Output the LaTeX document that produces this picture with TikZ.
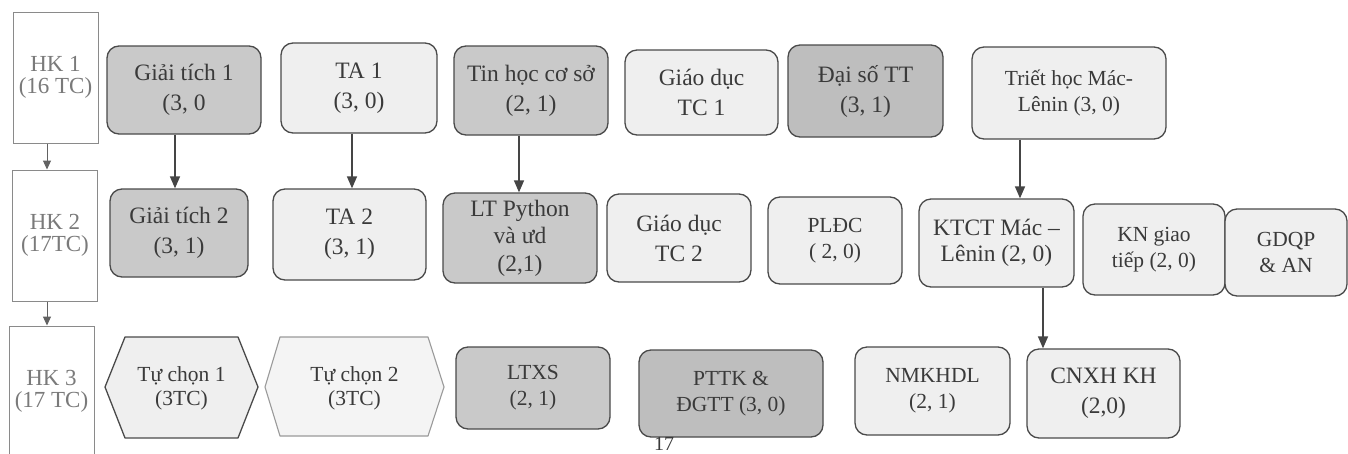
\documentclass[tikz,border=0pt]{standalone}
\usepackage{fontspec}
\setmainfont{Liberation Serif}
\usetikzlibrary{arrows.meta}
\definecolor{edge}{HTML}{4A4A4A}
\definecolor{txt}{HTML}{3A3A3A}
\definecolor{gfill}{HTML}{C9C9C9}
\definecolor{dfill}{HTML}{BEBEBE}
\definecolor{lfill}{HTML}{EFEFEF}
\definecolor{hkedge}{HTML}{8A8A8A}
\definecolor{hktxt}{HTML}{7A7A7A}
\definecolor{arrc}{HTML}{454545}
\definecolor{paleedge}{HTML}{9A9A9A}
\begin{document}
\begin{tikzpicture}[x=1pt,y=-1pt,
  box/.style={draw=edge, line width=1.3pt, rounded corners=12pt, align=center, text=txt,
              font=\fontsize{23.5}{30}\selectfont, inner sep=2pt},
  dark/.style={box, fill=gfill},
  darker/.style={box, fill=dfill},
  lite/.style={box, fill=lfill},
  small/.style={font=\fontsize{21.5}{26}\selectfont},
  hk/.style={draw=hkedge, line width=1pt, align=center, text=hktxt,
             font=\fontsize{23}{22}\selectfont, minimum width=85pt, minimum height=131pt},
  hexlabel/.style={align=center, text=txt, font=\fontsize{21.5}{24}\selectfont},
  arr/.style={draw=arrc, line width=1.5pt, -{Triangle[length=12pt,width=10pt]}},
  hkarr/.style={draw=hktxt!80!black, line width=1pt, -{Triangle[length=9pt,width=8pt]}},
]
\useasboundingbox (0,0) rectangle (1348,453);
\clip (0,0) rectangle (1348,453);
\fill[white] (0,0) rectangle (1348,453);

% semester column
\node[hk] (hk1) at (55.5,77.5) {HK 1\\(16 TC)};
\node[hk] (hk2) at (55,235.5) {HK 2\\(17TC)};
\node[hk] (hk3) at (51.5,391.5) {HK 3\\(17 TC)};

% row 1
\node[dark,  minimum width=154pt, minimum height=88pt] (gt1) at (184,90) {Giải tích 1\\(3, 0};
\node[lite,  minimum width=156pt, minimum height=90pt] (ta1) at (359,88) {TA 1\\(3, 0)};
\node[dark,  minimum width=154pt, minimum height=89pt] (thcs) at (531,90.5) {Tin học cơ sở\\(2, 1)};
\node[lite,  minimum width=153pt, minimum height=85pt] (gdtc1) at (701.5,92.5) {Giáo dục\\TC 1};
\node[darker,minimum width=155pt, minimum height=92pt] (dstt) at (865.5,91) {Đại số TT\\(3, 1)};
\node[lite,small, minimum width=194pt, minimum height=92pt] (thml) at (1069,93) {Triết học Mác-\\Lênin (3, 0)};

% row 2
\node[dark,  minimum width=138pt, minimum height=88pt] (gt2) at (179,233) {Giải tích 2\\(3, 1)};
\node[lite,  minimum width=153pt, minimum height=91pt] (ta2) at (349.5,234.5) {TA 2\\(3, 1)};
\node[dark,  font=\fontsize{23.5}{27.5}\selectfont, minimum width=154pt, minimum height=90pt] (ltpy) at (520,238) {LT Python\\và ưd\\(2,1)};
\node[lite,  minimum width=144pt, minimum height=88pt] (gdtc2) at (679,238) {Giáo dục\\TC 2};
\node[lite,small, minimum width=134pt, minimum height=87pt] (pldc) at (835,240.5) {PLĐC\\( 2, 0)};
\node[lite,  font=\fontsize{23.5}{26}\selectfont, minimum width=155pt, minimum height=88pt] (ktct) at (996.5,243) {KTCT Mác –\\Lênin (2, 0)};
\node[lite,small, minimum width=142pt, minimum height=91pt] (kngt) at (1154,249.5) {KN giao\\tiếp (2, 0)};
\node[lite,small, minimum width=122pt, minimum height=87pt] (gdqp) at (1286,252.5) {GDQP\\\& AN};

% row 3
\draw[edge, line width=1.3pt, fill=lfill, line join=round]
  (105,387) -- (125,337) -- (238,337) -- (258,387) -- (238,438) -- (125,438) -- cycle;
\node[hexlabel] (tc1) at (181.5,388) {Tự chọn 1\\(3TC)};
\draw[paleedge, line width=1.1pt, fill=lfill!70!white, line join=round]
  (265,387) -- (280,337) -- (428,337) -- (444,387) -- (428,436) -- (280,436) -- cycle;
\node[hexlabel] (tc2) at (354.5,388) {Tự chọn 2\\(3TC)};
\node[dark,small,  minimum width=154pt, minimum height=82pt] (ltxs) at (533,388) {LTXS\\(2, 1)};
\node[darker,small,minimum width=184pt, minimum height=87pt] (pttk) at (731,393.5) {PTTK \&\\ĐGTT (3, 0)};
\node[lite,small,  minimum width=155pt, minimum height=88pt] (nmk) at (932.5,391) {NMKHDL\\(2, 1)};
\node[lite,  minimum width=153pt, minimum height=89pt] (cnxh) at (1103.5,393.5) {CNXH KH\\(2,0)};

% page number
\node[anchor=north, inner sep=0pt, text=txt, font=\fontsize{20}{20}\selectfont] (pg) at (664,437) {17};

% connectors
\draw[hkarr] (hk1.south -| 47,0) -- (hk2.north -| 47,0);
\draw[hkarr] (hk2.south -| 47,0) -- (hk3.north -| 47,0);
\draw[arr] (gt1.south -| 175,0) -- (gt2.north -| 175,0);
\draw[arr] (ta1.south -| 352,0) -- (ta2.north -| 352,0);
\draw[arr] (thcs.south -| 519,0) -- (ltpy.north -| 519,0);
\draw[arr] (thml.south -| 1020,0) -- (ktct.north -| 1020,0);
\draw[arr] (ktct.south -| 1043,0) -- (cnxh.north -| 1043,0);
\end{tikzpicture}
\end{document}
